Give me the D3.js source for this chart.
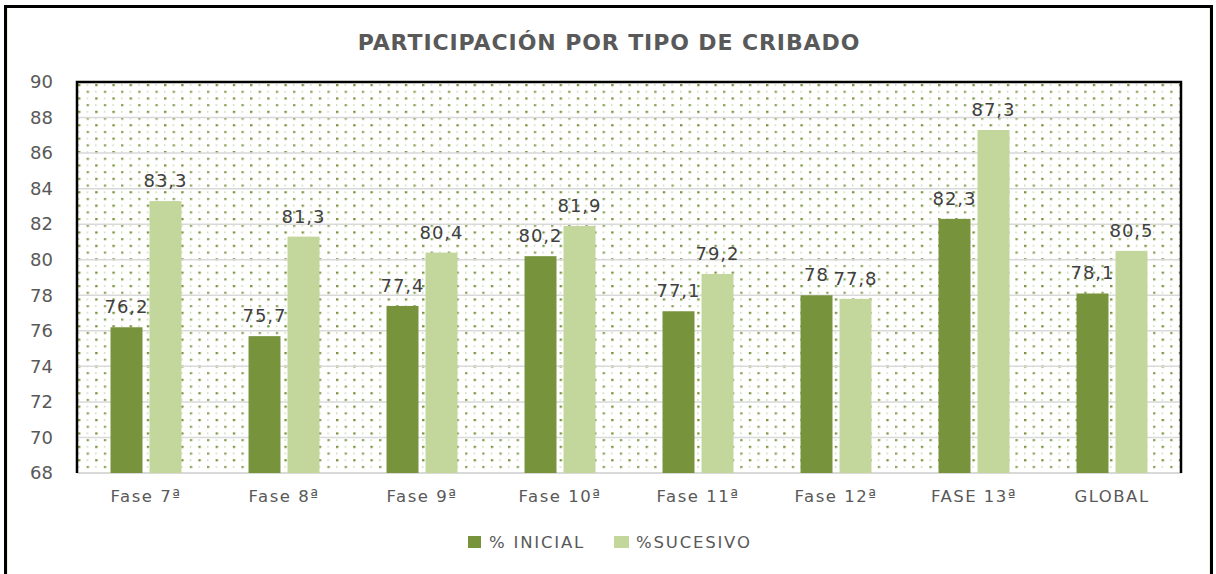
<!DOCTYPE html>
<html>
<head>
<meta charset="utf-8">
<script src="https://cdn.jsdelivr.net/npm/d3@7"></script>
<style>
  body { margin: 0; background: #fff; }
  text { font-family: "DejaVu Sans", sans-serif; }
</style>
</head>
<body>
<svg id="chart"></svg>
<script>
const width = 1216;
const height = 574;

const categories = ['Fase 7ª', 'Fase 8ª', 'Fase 9ª', 'Fase 10ª', 'Fase 11ª', 'Fase 12ª', 'FASE 13ª', 'GLOBAL'];
const seriesNames = ['% INICIAL', '%SUCESIVO'];
const inicial = [76.2, 75.7, 77.4, 80.2, 77.1, 78, 82.3, 78.1];
const sucesivo = [83.3, 81.3, 80.4, 81.9, 79.2, 77.8, 87.3, 80.5];
const yTicks = [68, 70, 72, 74, 76, 78, 80, 82, 84, 86, 88, 90];

const colors = ['#77933c', '#c3d69b'];

const plot = {left: 77, right: 1181, top: 82, bottom: 473};

const svg = d3.select('#chart')
    .attr('width', width)
    .attr('height', height);

// outer frame
svg.append('rect')
    .attr('x', 6.5).attr('y', 6.5)
    .attr('width', 1204).attr('height', 580)
    .attr('fill', 'none')
    .attr('stroke', '#ebf1de')
    .attr('stroke-width', 3);
svg.append('rect')
    .attr('x', 5.5).attr('y', 6.5)
    .attr('width', 1206).attr('height', 580)
    .attr('fill', 'none')
    .attr('stroke', '#000')
    .attr('stroke-width', 3);

// dotted fill of the plot area
const defs = svg.append('defs');
const pat = defs.append('pattern')
    .attr('id', 'dots')
    .attr('patternUnits', 'userSpaceOnUse')
    .attr('x', 78).attr('y', 84)
    .attr('width', 17.2).attr('height', 13.4);
pat.append('rect').attr('x', 0).attr('y', 0).attr('width', 2.4).attr('height', 2.2).attr('fill', '#77933c');
pat.append('rect').attr('x', 8.6).attr('y', 6.7).attr('width', 2.4).attr('height', 2.2).attr('fill', '#77933c').attr('opacity', 0.85);
pat.append('rect').attr('x', 8.6).attr('y', 0.3).attr('width', 1.4).attr('height', 1.4).attr('fill', '#77933c').attr('opacity', 0.45);
pat.append('rect').attr('x', 0).attr('y', 7).attr('width', 1.4).attr('height', 1.4).attr('fill', '#77933c').attr('opacity', 0.45);

const x = d3.scaleBand().domain(categories).range([plot.left, plot.right]);
const xSub = d3.scaleBand().domain(seriesNames).range([0, x.bandwidth()])
    .paddingInner(0.18).paddingOuter(0.86);
const y = d3.scaleLinear().domain([68, 90]).range([plot.bottom, plot.top]);

svg.append('rect')
    .attr('x', plot.left).attr('y', plot.top)
    .attr('width', plot.right - plot.left)
    .attr('height', plot.bottom - plot.top)
    .attr('fill', 'url(#dots)');

// gridlines
svg.append('g')
    .selectAll('line')
    .data(yTicks.slice(1, -1))
    .enter()
    .append('line')
    .attr('x1', plot.left).attr('x2', plot.right)
    .attr('y1', d => y(d)).attr('y2', d => y(d))
    .attr('stroke', '#d9d9d9')
    .attr('stroke-width', 1.5);

// plot borders
svg.append('line')
    .attr('x1', plot.left).attr('x2', plot.right)
    .attr('y1', plot.bottom).attr('y2', plot.bottom)
    .attr('stroke', '#d9d9d9').attr('stroke-width', 2);
svg.append('path')
    .attr('d', `M${plot.left},${plot.bottom} V${plot.top} H${plot.right} V${plot.bottom}`)
    .attr('fill', 'none').attr('stroke', '#000').attr('stroke-width', 2.5);

const rows = [];
categories.forEach((c, i) => {
    rows.push({cat: c, series: seriesNames[0], value: inicial[i]});
    rows.push({cat: c, series: seriesNames[1], value: sucesivo[i]});
});

svg.append('g')
    .selectAll('rect')
    .data(rows)
    .enter()
    .append('rect')
    .attr('x', d => x(d.cat) + xSub(d.series))
    .attr('y', d => y(d.value))
    .attr('width', xSub.bandwidth())
    .attr('height', d => y(68) - y(d.value))
    .attr('fill', d => colors[seriesNames.indexOf(d.series)]);

svg.append('g')
    .selectAll('text')
    .data(rows)
    .enter()
    .append('text')
    .attr('x', d => x(d.cat) + xSub(d.series) + xSub.bandwidth() / 2)
    .attr('y', d => y(d.value) - 14)
    .attr('text-anchor', 'middle')
    .attr('font-size', 18)
    .attr('letter-spacing', 1)
    .attr('fill', '#404040')
    .text(d => String(d.value).replace('.', ','));

// y axis
const yAxis = svg.append('g')
    .attr('transform', `translate(${plot.left}, 0)`)
    .call(d3.axisLeft(y).tickValues(yTicks).tickSize(0).tickPadding(24));
yAxis.select('.domain').remove();
yAxis.selectAll('text')
    .attr('font-family', 'DejaVu Sans')
    .attr('font-size', 18)
    .attr('fill', '#595959');

// x axis
const xAxis = svg.append('g')
    .attr('transform', `translate(0, ${plot.bottom})`)
    .call(d3.axisBottom(x).tickSize(0).tickPadding(17));
xAxis.select('.domain').remove();
xAxis.selectAll('text')
    .attr('font-family', 'DejaVu Sans')
    .attr('font-size', 16.5)
    .attr('letter-spacing', 1.5)
    .attr('fill', '#595959');

// title
svg.append('text')
    .attr('x', 609)
    .attr('y', 50)
    .attr('text-anchor', 'middle')
    .attr('font-size', 22)
    .attr('font-weight', 'bold')
    .attr('letter-spacing', 0.9)
    .attr('fill', '#595959')
    .text('PARTICIPACIÓN POR TIPO DE CRIBADO');

// legend
const legendX = [468, 614];
const legendW = [13, 15];
const legend = svg.append('g')
    .selectAll('g')
    .data(seriesNames)
    .enter()
    .append('g')
    .attr('transform', (d, i) => `translate(${legendX[i]}, 536)`);
legend.append('rect')
    .attr('width', (d, i) => legendW[i]).attr('height', 12)
    .attr('fill', (d, i) => colors[i]);
legend.append('text')
    .attr('x', (d, i) => i === 0 ? 21 : 22)
    .attr('y', 12)
    .attr('font-size', 16.5)
    .attr('letter-spacing', 1.8)
    .attr('fill', '#595959')
    .text(d => d);
</script>
</body>
</html>
